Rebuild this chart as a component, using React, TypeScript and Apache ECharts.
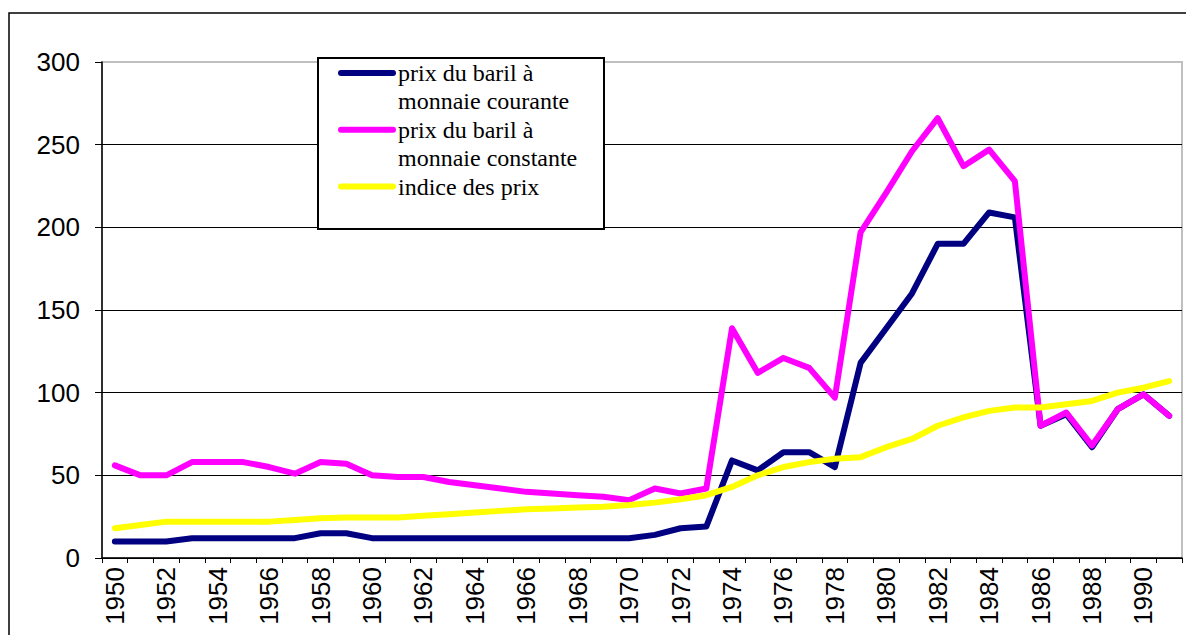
import React, { useEffect, useRef } from "react";
import * as echarts from "echarts";

const years: string[] = [];
for (let y = 1950; y <= 1991; y++) years.push(String(y));

const seriesNames = [
  "prix du baril à monnaie courante",
  "prix du baril à monnaie constante",
  "indice des prix",
];

const prixCourant = [
  10, 10, 10, 12, 12, 12, 12, 12, 15, 15, 12, 12, 12, 12, 12, 12, 12, 12, 12, 12,
  12, 14, 18, 19, 59, 53, 64, 64, 55, 118, 139, 160, 190, 190, 209, 206, 80, 87,
  67, 90, 99, 86,
];

const prixConstant = [
  56, 50, 50, 58, 58, 58, 55, 51, 58, 57, 50, 49, 49, 46, 44, 42, 40, 39, 38, 37,
  35, 42, 39, 42, 139, 112, 121, 115, 97, 197, 221, 246, 266, 237, 247, 228, 80,
  88, 68, 90, 99, 86,
];

const indicePrix = [
  18, 20, 22, 22, 22, 22, 22, 23, 24, 24.5, 24.5, 24.5, 25.5, 26.5, 27.5, 28.5,
  29.5, 30, 30.5, 31, 32, 33.5, 35.5, 38, 43, 50, 55, 58, 60, 61, 67, 72, 80, 85,
  89, 91, 91, 93, 95, 100, 103, 107,
];

const colors = ["#000080", "#FF00FF", "#FFFF00"];

const legendLines = [
  ["prix du baril à", "monnaie courante"],
  ["prix du baril à", "monnaie constante"],
  ["indice des prix"],
];

export default function App() {
  const ref = useRef<HTMLDivElement>(null);
  useEffect(() => {
    if (!ref.current) return;
    const chart = echarts.init(ref.current, undefined, { renderer: "svg" });

    const legendGraphics: any[] = [
      {
        type: "rect",
        shape: { x: 318, y: 58, width: 286, height: 171 },
        style: { fill: "#fff", stroke: "#000", lineWidth: 2 },
        z: 100,
      },
    ];
    let row = 0;
    legendLines.forEach((lines, i) => {
      const iconY = 73 + row * 28.4;
      legendGraphics.push({
        type: "line",
        shape: { x1: 341, y1: iconY, x2: 393, y2: iconY },
        style: { stroke: colors[i], lineWidth: 6, lineCap: "round" },
        z: 101,
      });
      lines.forEach((t) => {
        legendGraphics.push({
          type: "text",
          x: 398,
          y: 73 + row * 28.4,
          style: {
            text: t,
            fill: "#000",
            fontSize: 24,
            fontFamily: "Liberation Serif",
            verticalAlign: "middle",
            align: "left",
          },
          z: 101,
        });
        row++;
      });
    });

    chart.setOption({
      animation: false,
      backgroundColor: "#fff",
      grid: {
        left: 102,
        right: 4,
        top: 62,
        bottom: 77,
        show: true,
        borderColor: "#c0c0c0",
        borderWidth: 2,
        backgroundColor: "transparent",
      },
      xAxis: {
        type: "category",
        data: years,
        boundaryGap: true,
        axisLine: { lineStyle: { color: "#000", width: 1.5 } },
        axisTick: { show: true, interval: 0, length: 5, lineStyle: { color: "#000" } },
        axisLabel: {
          interval: 1,
          rotate: 90,
          margin: 9,
          color: "#000",
          fontSize: 26,
          fontFamily: "Liberation Sans",
        },
        splitLine: { show: false },
      },
      yAxis: {
        type: "value",
        min: 0,
        max: 300,
        interval: 50,
        axisLine: { show: true, lineStyle: { color: "#000", width: 1.5 } },
        axisTick: { show: true, length: 7, lineStyle: { color: "#000" } },
        axisLabel: {
          margin: 22,
          color: "#000",
          fontSize: 26,
          fontFamily: "Liberation Sans",
        },
        splitLine: {
          show: true,
          lineStyle: {
            color: ["#000", "#000", "#000", "#000", "#000", "#000", "#c0c0c0"],
            width: 1,
          },
        },
      },
      series: [
        { name: seriesNames[0], data: prixCourant, color: colors[0] },
        { name: seriesNames[1], data: prixConstant, color: colors[1] },
        { name: seriesNames[2], data: indicePrix, color: colors[2] },
      ].map((s) => ({
        type: "line",
        name: s.name,
        data: s.data,
        showSymbol: false,
        symbol: "none",
        lineStyle: { color: s.color, width: 6, cap: "round", join: "round" },
        itemStyle: { color: s.color },
      })),
      graphic: [
        {
          type: "polyline",
          shape: { points: [[9, 640], [9, 13], [1190, 13]] },
          style: { stroke: "#000", lineWidth: 1.5, fill: "none" },
          z: 50,
        },
        ...legendGraphics,
      ],
    });
    return () => chart.dispose();
  }, []);
  return (
    <div
      ref={ref}
      style={{ position: "absolute", left: 0, top: 0, width: 1186, height: 635 }}
    />
  );
}
